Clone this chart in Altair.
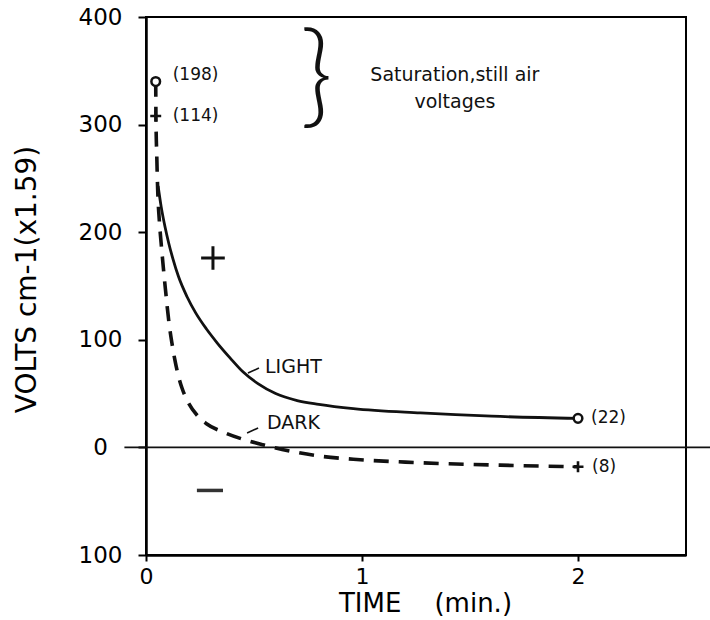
import altair as alt
import pandas as pd

# Field strength against time after the start of the run
light_t = [0.056, 0.07, 0.088, 0.105, 0.125, 0.15, 0.19, 0.23, 0.28, 0.33, 0.39,
           0.45, 0.52, 0.6, 0.7, 0.8, 0.96, 1.27, 1.6, 2.0]
light_v = [243, 224, 205, 190, 175, 159, 140, 125, 110, 97, 83,
           70, 59, 50, 43.5, 40, 36, 32, 29, 27]

dark_t = [0.045, 0.046, 0.05, 0.054, 0.062, 0.07, 0.078, 0.085, 0.092, 0.098, 0.107,
          0.12, 0.133, 0.148, 0.167, 0.19, 0.24, 0.28, 0.36, 0.45, 0.54, 0.67,
          0.8, 0.96, 1.24, 1.64, 2.0]
dark_v = [340, 308, 270, 240, 210, 190, 172, 157, 143, 131, 115,
          97, 82, 68, 55, 44, 29, 22, 14, 7.5, 2.5, -3.5,
          -8, -11, -14, -16.5, -18]

# Measured end points: circles (light) and crosses (dark)
end_t = [0.045, 2.0]
circle_v = [340, 27]
circle_txt = ["(198)", "(22)"]
cross_v = [308, -18]
cross_txt = ["(114)", "(8)"]

# Annotations
zero_line_t = [-0.1, 2.62]
curve_names = ["LIGHT", "DARK"]
curve_name_t = [0.551, 0.56]
curve_name_v = [74.7, 22.7]
leader_t = [0.472, 0.468]
leader_v = [69.1, 13.4]
leader_t2 = [0.523, 0.519]
leader_v2 = [73.8, 18.0]
sign_t = [0.31, 0.296]
sign_v = [176, -40]
note_text = "Saturation,still air\nvoltages"
note_t = 1.43
note_v = 346
brace_t = 0.79
brace_v = 342

FONT = "DejaVu Sans"
INK = "#111111"

x_scale = alt.Scale(domain=[0, 2.5], nice=False, zero=False)
y_scale = alt.Scale(domain=[-100, 400], nice=False, zero=False)

x_axis = alt.Axis(
    values=[0, 1, 2], format="d", grid=False, labelFlush=False, labelOverlap=False,
    tickSize=6, tickWidth=2, tickColor="black", domainWidth=2.5, domainColor="black",
    labelFont=FONT, labelFontSize=22, labelColor="black", labelPadding=5,
    titleFont=FONT, titleFontSize=26, titleFontWeight="normal", titleColor="black",
    titleX=279, titleY=48, titleBaseline="middle", titleAlign="center",
)
y_axis = alt.Axis(
    values=[-100, 0, 100, 200, 300, 400], labelExpr="format(abs(datum.value), 'd')",
    grid=False, labelFlush=False, labelOverlap=False,
    tickSize=8, tickWidth=2, tickColor="black", domainWidth=2.5, domainColor="black",
    labelFont=FONT, labelFontSize=23, labelColor="black", labelAlign="center",
    labelBaseline="middle", labelPadding=38,
    titleFont=FONT, titleFontSize=28, titleFontWeight="normal", titleColor="black",
    titleX=-119, titleY=262, titleAngle=270, titleBaseline="middle", titleAlign="center",
)

x_enc = alt.X("t:Q", scale=x_scale, axis=x_axis, title="TIME\u00a0\u00a0\u00a0\u00a0(min.)")
y_enc = alt.Y("v:Q", scale=y_scale, axis=y_axis, title="VOLTS cm-1(x1.59)")

light_df = pd.DataFrame({"t": light_t, "v": light_v})
dark_df = pd.DataFrame({"t": dark_t, "v": dark_v})

zero_line = alt.Chart(pd.DataFrame({"t": [zero_line_t[0]], "t2": [zero_line_t[1]], "v": [0]})).mark_rule(
    color=INK, strokeWidth=1.8
).encode(x=x_enc, x2="t2:Q", y=y_enc)

light_line = alt.Chart(light_df).mark_line(
    color=INK, strokeWidth=2.8, interpolate="monotone"
).encode(x=x_enc, y=y_enc)

dark_line = alt.Chart(dark_df).mark_line(
    color=INK, strokeWidth=3.6, strokeDash=[15, 10], interpolate="monotone"
).encode(x=x_enc, y=y_enc)

circles = alt.Chart(pd.DataFrame({"t": end_t, "v": circle_v})).mark_point(
    shape="circle", size=75, filled=True, fill="white", stroke=INK, strokeWidth=2.5, opacity=1
).encode(x=x_enc, y=y_enc)

PLUS = "M-1,0H1M0,-1V1"
crosses = alt.Chart(pd.DataFrame({"t": end_t, "v": cross_v})).mark_point(
    shape=PLUS, size=120, stroke=INK, strokeWidth=2.6, opacity=1
).encode(x=x_enc, y=y_enc)


def point_label(t, v, txt, dx, dy):
    return alt.Chart(pd.DataFrame({"t": [t], "v": [v], "txt": [txt]})).mark_text(
        font=FONT, fontSize=17, color=INK, align="left", baseline="middle", dx=dx, dy=dy
    ).encode(x=x_enc, y=y_enc, text="txt:N")


labels = [
    point_label(end_t[0], circle_v[0], circle_txt[0], 17, -7),
    point_label(end_t[0], cross_v[0], cross_txt[0], 17, 0),
    point_label(end_t[1], circle_v[1], circle_txt[1], 13, 0),
    point_label(end_t[1], cross_v[1], cross_txt[1], 14, 0),
]

names = alt.Chart(pd.DataFrame({"t": curve_name_t, "v": curve_name_v, "txt": curve_names})).mark_text(
    font=FONT, fontSize=19, color=INK, align="left", baseline="middle"
).encode(x=x_enc, y=y_enc, text="txt:N")

leaders = alt.Chart(pd.DataFrame({"t": leader_t, "v": leader_v, "t2": leader_t2, "v2": leader_v2})).mark_rule(
    color=INK, strokeWidth=1.6
).encode(x=x_enc, y=y_enc, x2="t2:Q", y2="v2:Q")

plus_sign = alt.Chart(pd.DataFrame({"t": [sign_t[0]], "v": [sign_v[0]]})).mark_point(
    shape=PLUS, size=560, stroke=INK, strokeWidth=3, opacity=1
).encode(x=x_enc, y=y_enc)

minus_sign = alt.Chart(pd.DataFrame({"t": [sign_t[1]], "v": [sign_v[1]]})).mark_point(
    shape="M-1,0H1", size=680, stroke="#333333", strokeWidth=3.5, opacity=1
).encode(x=x_enc, y=y_enc)

brace = alt.Chart(pd.DataFrame({"t": [brace_t], "v": [brace_v], "txt": ["}"]})).mark_text(
    font="Lato", fontWeight=300, fontSize=112, color=INK, align="center", baseline="middle"
).encode(x=x_enc, y=y_enc, text="txt:N")

note = alt.Chart(pd.DataFrame({"t": [note_t], "v": [note_v], "txt": [note_text]})).mark_text(
    font=FONT, fontSize=19, color=INK, align="center", baseline="middle", lineBreak="\n", lineHeight=27
).encode(x=x_enc, y=y_enc, text="txt:N")

chart = alt.layer(
    zero_line, light_line, dark_line, circles, crosses, *labels,
    names, leaders, plus_sign, minus_sign, brace, note
).properties(
    width=540, height=538,
    autosize=alt.AutoSizeParams(type="none"),
    padding={"left": 146, "top": 17, "right": 24, "bottom": 65},
    background="white",
).configure_view(stroke="black", strokeWidth=2)

chart.save("out.html", embed_options={"renderer": "svg", "actions": False})
